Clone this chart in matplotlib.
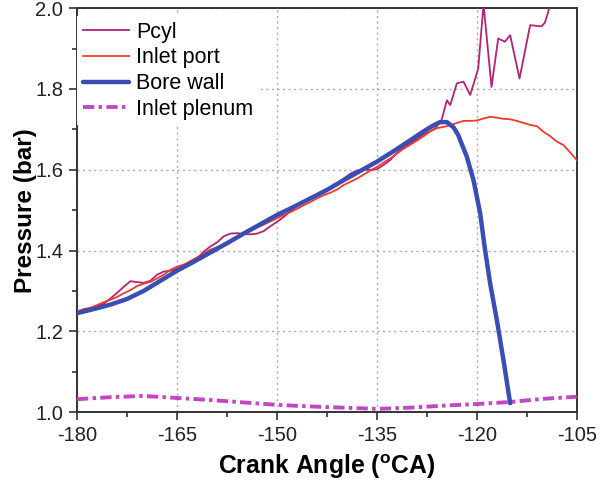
import matplotlib
matplotlib.use("Agg")
import matplotlib.pyplot as plt
from matplotlib.ticker import MultipleLocator, FormatStrFormatter

plt.rcParams['font.family'] = ['Liberation Sans', 'DejaVu Sans']
plt.rcParams['axes.unicode_minus'] = False
plt.rcParams['mathtext.fontset'] = 'custom'
plt.rcParams['mathtext.rm'] = 'Liberation Sans'
plt.rcParams['mathtext.bf'] = 'Liberation Sans:bold'

# In-cylinder pressure (measured)
pcyl_ca = [-180, -179, -178, -177, -176, -175, -174, -173, -172, -171, -170,
           -169, -168, -167, -166, -165, -164, -163, -162, -161, -160,
           -159, -158, -157, -156, -155, -154, -153, -152, -151, -150,
           -149, -148, -147, -146, -145, -144, -143, -142, -141, -140,
           -139, -138, -137, -136, -135, -134, -133, -132, -131, -130,
           -129, -128, -127, -126.3, -125.3, -124.5, -124, -123, -122, -121,
           -119.8, -119, -117.8, -116.8, -115.8, -115, -113.6, -112, -110.3,
           -109.8, -109.3, -108.5]
pcyl = [1.248, 1.255, 1.258, 1.262, 1.268, 1.281, 1.295, 1.310, 1.324, 1.322, 1.320,
        1.325, 1.340, 1.348, 1.350, 1.355, 1.364, 1.366, 1.380, 1.397, 1.410,
        1.420, 1.435, 1.442, 1.443, 1.441, 1.440, 1.442, 1.448, 1.460, 1.471,
        1.483, 1.497, 1.510, 1.522, 1.528, 1.537, 1.545, 1.556, 1.567, 1.578,
        1.590, 1.598, 1.600, 1.600, 1.601, 1.612, 1.624, 1.642, 1.656, 1.665,
        1.676, 1.688, 1.695, 1.702, 1.723, 1.772, 1.760, 1.814, 1.818, 1.785,
        1.850, 2.010, 1.805, 1.925, 1.917, 1.933, 1.826, 1.958, 1.955,
        1.964, 1.990, 2.050]

# Inlet port pressure
port_ca = list(range(-180, -104))
port = [1.250, 1.253, 1.258, 1.265, 1.272, 1.278, 1.285, 1.294, 1.302, 1.312,
        1.318, 1.322, 1.331, 1.340, 1.352, 1.360, 1.365, 1.374, 1.383, 1.392,
        1.402, 1.408, 1.415, 1.424, 1.432, 1.440, 1.448, 1.457, 1.464, 1.472,
        1.480, 1.488, 1.495, 1.503, 1.512, 1.520, 1.529, 1.537, 1.543, 1.551,
        1.562, 1.570, 1.578, 1.588, 1.598, 1.607, 1.618, 1.628, 1.640, 1.652,
        1.662, 1.672, 1.683, 1.695, 1.703, 1.706, 1.710, 1.716, 1.721, 1.721,
        1.722, 1.727, 1.731, 1.729, 1.726, 1.725, 1.721, 1.716, 1.711, 1.708,
        1.694, 1.683, 1.670, 1.661, 1.643, 1.624]

# Bore wall pressure
bore_ca = [-180, -177.5, -175, -172.5, -170, -167.5, -165, -162.5, -160, -157.5,
           -155, -152.5, -150, -147.5, -145, -142.5, -140, -137.5, -135, -132.5,
           -130, -128, -126.5, -125.5, -124.5, -123.5, -122.8, -121.5, -120.5,
           -119.5, -118.8, -118, -117, -116, -115]
bore = [1.245, 1.255, 1.266, 1.280, 1.300, 1.325, 1.350, 1.372, 1.395, 1.418,
        1.442, 1.465, 1.488, 1.508, 1.529, 1.550, 1.574, 1.597, 1.620, 1.646,
        1.673, 1.695, 1.710, 1.718, 1.718, 1.705, 1.686, 1.632, 1.574,
        1.492, 1.405, 1.318, 1.228, 1.128, 1.022]

# Inlet plenum pressure
plenum_ca = [-180, -175, -170, -165, -160, -155, -150, -145, -140, -135,
             -130, -125, -120, -115, -110, -105]
plenum = [1.032, 1.037, 1.040, 1.035, 1.030, 1.024, 1.018, 1.014, 1.011, 1.008,
          1.011, 1.016, 1.020, 1.025, 1.033, 1.038]

fig = plt.figure(figsize=(6.04, 4.82), dpi=100)
ax = fig.add_axes([0.1275, 0.145, 0.8275, 0.838])

ax.plot(pcyl_ca, pcyl, color='#b02478', lw=1.3, label='Pcyl', zorder=3)
ax.plot(port_ca, port, color='#ef3b2c', lw=1.3, label='Inlet port', zorder=3)
ax.plot(bore_ca, bore, color='#3a4db3', lw=3.2, label='Bore wall', zorder=4,
        solid_capstyle='round')
ax.plot(plenum_ca, plenum, color='#c446c4', lw=2.8, label='Inlet plenum', zorder=3,
        linestyle=(0, (2.9, 1.1, 0.9, 1.1)))

ax.set_xlim(-180, -105)
ax.set_ylim(1.0, 2.0)
ax.xaxis.set_major_locator(MultipleLocator(15))
ax.xaxis.set_minor_locator(MultipleLocator(7.5))
ax.yaxis.set_major_locator(MultipleLocator(0.2))
ax.yaxis.set_minor_locator(MultipleLocator(0.1))
ax.yaxis.set_major_formatter(FormatStrFormatter('%.1f'))

ax.grid(True, which='major', color='#aaaaaa', linestyle=(0, (1.5, 2.5)), lw=1.0, zorder=0)

for s in ax.spines.values():
    s.set_linewidth(1.4)
    s.set_color('#333333')

ax.tick_params(axis='both', which='major', direction='out', length=6, width=1.2,
               labelsize=14.5, colors='#333333', labelcolor='#222222')
ax.tick_params(axis='both', which='minor', direction='out', length=3.3, width=1.2,
               colors='#333333')
ax.tick_params(axis='x', which='major', pad=4)
ax.tick_params(axis='y', which='major', pad=4)
ax.tick_params(top=False, right=False, which='both')

ax.set_xlabel('Crank Angle ($^{\\mathbf{o}}$CA)', fontsize=17.8, fontweight='bold',
              labelpad=5)
ax.set_ylabel('Pressure (bar)', fontsize=17.5, fontweight='bold', labelpad=-1.5)

leg = ax.legend(loc='upper left', bbox_to_anchor=(-0.006, 0.988), fontsize=15.5,
                frameon=True, fancybox=False, framealpha=1.0, facecolor='white',
                edgecolor='none', borderaxespad=0.15, borderpad=0.25,
                handlelength=2.17, handletextpad=0.31, labelspacing=0.22)
leg.set_zorder(5)

fig.savefig('out.png', dpi=100)
